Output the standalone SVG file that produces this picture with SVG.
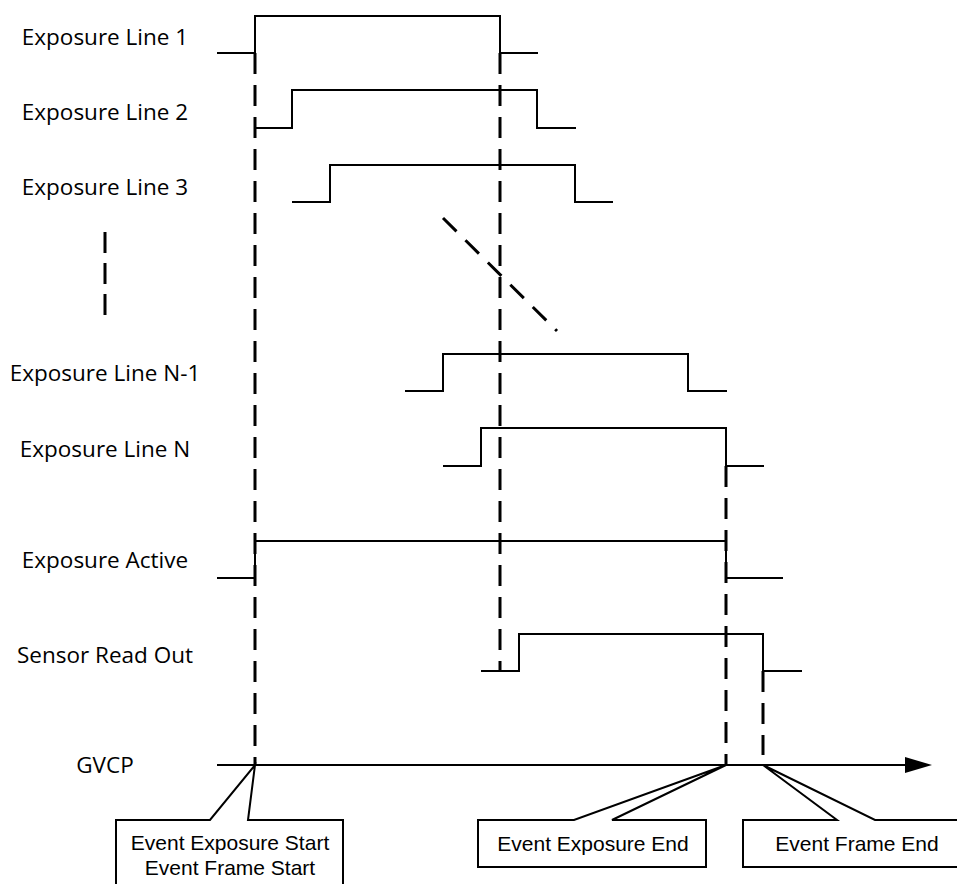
<svg xmlns="http://www.w3.org/2000/svg" width="957" height="884" viewBox="0 0 957 884">
<style>
.lbl{font-family:"Open Sans","Liberation Sans",sans-serif;font-size:22.5px;fill:#000;text-anchor:middle}
.ev{font-family:"Liberation Sans",Arial,sans-serif;font-size:21px;fill:#000;text-anchor:middle}
.wave{fill:none;stroke:#000;stroke-width:2;stroke-linejoin:miter}
.dash{fill:none;stroke:#000;stroke-width:3;stroke-dasharray:21 11}
.call{fill:#fff;stroke:#000;stroke-width:2;stroke-linejoin:miter}
</style>
<rect width="957" height="884" fill="#fff"/>
<g id="line1"><text class="lbl" x="105" y="45">Exposure Line 1</text><polyline class="wave" points="217,53 255,53 255,16 500,16 500,53 538,53"/></g>
<g id="line2"><text class="lbl" x="105" y="120">Exposure Line 2</text><polyline class="wave" points="255,128 292,128 292,90 537,90 537,128 576,128"/></g>
<g id="line3"><text class="lbl" x="105" y="195">Exposure Line 3</text><polyline class="wave" points="292,202 330,202 330,165 575,165 575,202 613,202"/></g>
<g id="ellipsis"><line class="dash" x1="105" y1="232" x2="105" y2="316" style="stroke-dasharray:21 10"/><line class="dash" x1="443" y1="218" x2="557" y2="331" style="stroke-dasharray:19 12.6"/></g>
<g id="lineN1"><text class="lbl" x="105" y="381">Exposure Line N-1</text><polyline class="wave" points="405,391 443,391 443,354 688,354 688,391 727,391"/></g>
<g id="lineN"><text class="lbl" x="105" y="457">Exposure Line N</text><polyline class="wave" points="443,466 481,466 481,428 726,428 726,466 764,466"/></g>
<g id="active"><text class="lbl" x="105" y="568">Exposure Active</text><polyline class="wave" points="217,578 255,578 255,541 726,541 726,578 783,578"/></g>
<g id="readout"><text class="lbl" x="105" y="663">Sensor Read Out</text><polyline class="wave" points="481,671 519,671 519,634 763,634 763,671 802,671"/></g>
<g id="gvcp"><text class="lbl" x="105" y="773">GVCP</text><line class="wave" x1="217" y1="765" x2="907" y2="765"/><polygon points="905,757 932,765 905,773" fill="#000"/></g>
<g id="connectors">
<line class="dash" x1="255" y1="53" x2="255" y2="765"/>
<line class="dash" x1="500" y1="53" x2="500" y2="671"/>
<line class="dash" x1="726" y1="466" x2="726" y2="765"/>
<line class="dash" x1="763" y1="671" x2="763" y2="755"/>
</g>
<g id="evStart"><polygon class="call" points="116,890 116,820 210,820 255,765 248,820 343,820 343,890"/><text class="ev" x="230" y="850">Event Exposure Start</text><text class="ev" x="230" y="875">Event Frame Start</text></g>
<g id="evExpEnd"><polygon class="call" points="478,867 478,820 574,820 726,765 612,820 706,820 706,867"/><text class="ev" x="593" y="851">Event Exposure End</text></g>
<g id="evFrameEnd"><polygon class="call" points="743,867 743,820 837,820 763,765 875,820 970,820 970,867"/><text class="ev" x="857" y="851">Event Frame End</text></g>
</svg>
